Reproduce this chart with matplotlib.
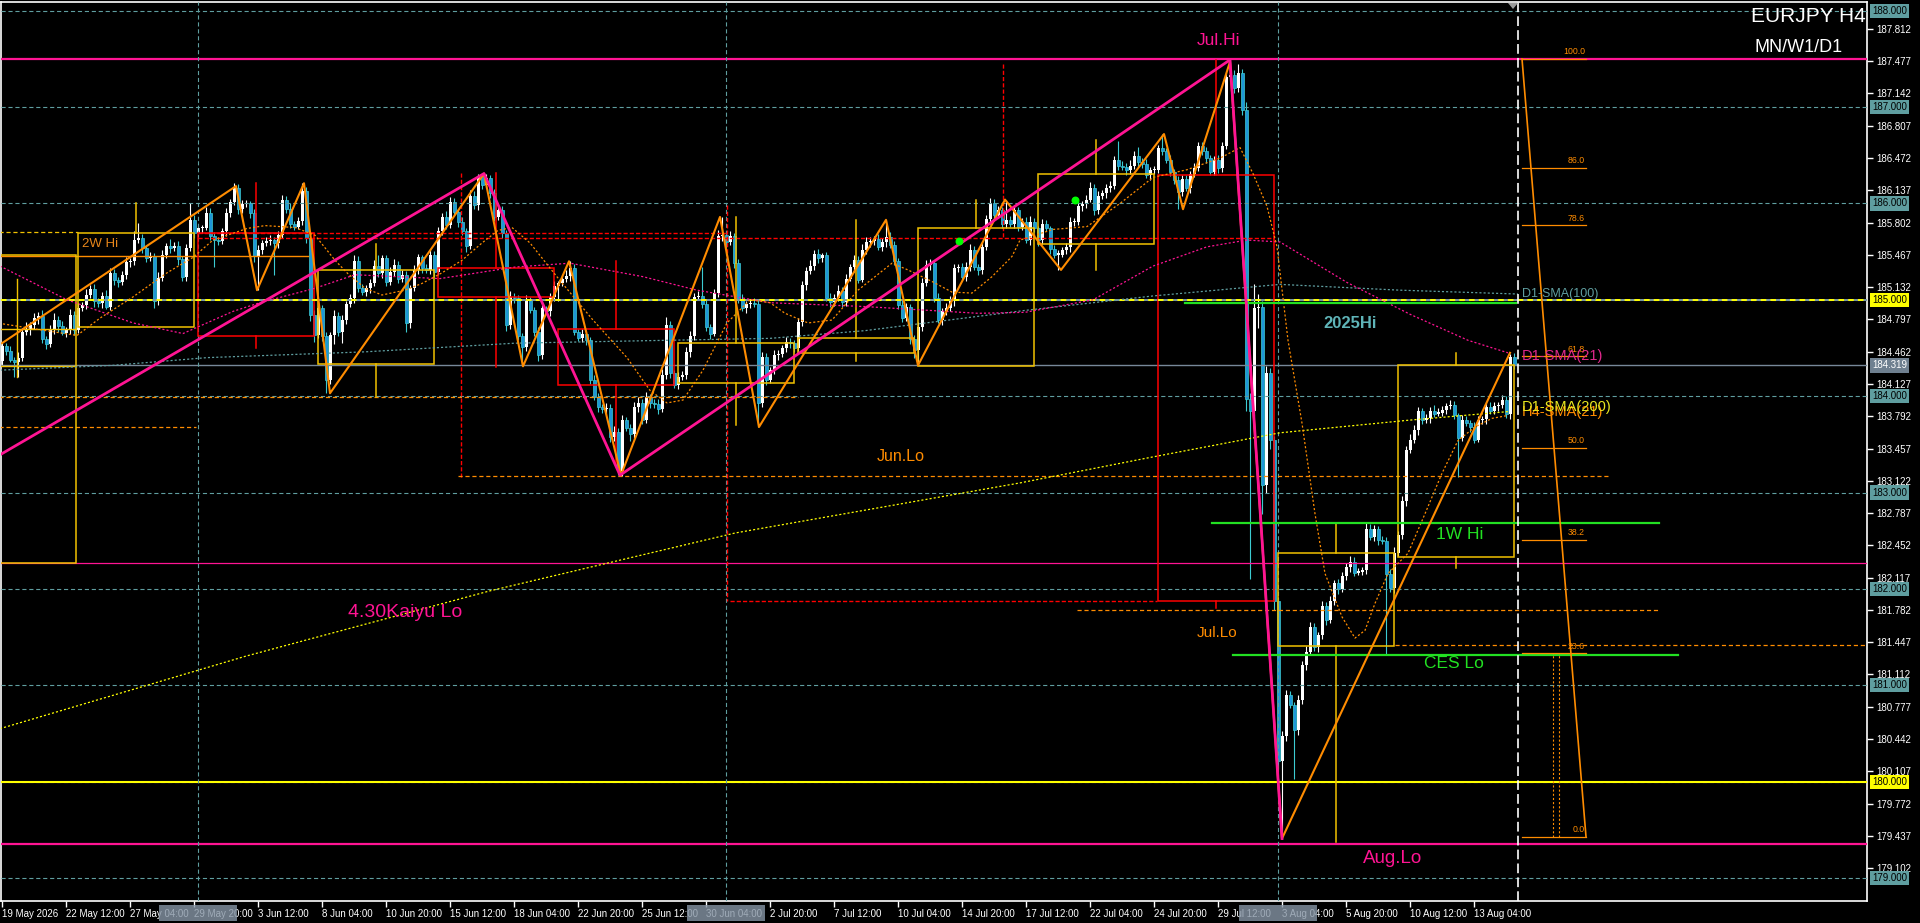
import numpy as np
import matplotlib
matplotlib.use("Agg")
import matplotlib.pyplot as plt
from matplotlib import font_manager
from matplotlib.patches import Rectangle, Polygon
from matplotlib.transforms import blended_transform_factory

plt.rcParams['lines.scale_dashes'] = False

_names = {f.name for f in font_manager.fontManager.ttflist}
SANS = 'Liberation Sans' if 'Liberation Sans' in _names else 'DejaVu Sans'
NARROW = 'Liberation Sans Narrow' if 'Liberation Sans Narrow' in _names else SANS
AXIS_SIZE = 8 if NARROW != SANS else 7

# ---------------- data (H4 bars, bar 0 = 19 May 2026 20:00) ----------------
FIRST_OPEN = 184.36
CLOSE = [
    184.52, 184.47, 184.38, 184.35, 184.40, 184.67, 184.69, 184.74, 184.81, 184.83,
    184.59, 184.54, 184.69, 184.79, 184.73, 184.66, 184.69, 184.84, 184.69, 184.92,
    184.95, 185.05, 185.11, 184.99, 184.97, 185.04, 184.93, 185.28, 185.21, 185.18,
    185.26, 185.39, 185.40, 185.62, 185.64, 185.54, 185.43, 185.45, 184.99, 185.23,
    185.47, 185.56, 185.54, 185.56, 185.42, 185.24, 185.54, 185.83, 185.69, 185.74,
    185.75, 185.90, 185.66, 185.62, 185.61, 185.71, 185.90, 186.01, 186.16, 185.94,
    185.99, 186.00, 185.90, 185.45, 185.52, 185.59, 185.61, 185.62, 185.59, 185.67,
    186.04, 185.94, 185.79, 185.76, 185.82, 186.13, 185.64, 184.84, 184.64, 184.91,
    184.62, 184.17, 184.64, 184.83, 184.67, 184.79, 184.96, 185.02, 185.40, 185.12,
    185.08, 185.12, 185.17, 185.35, 185.28, 185.43, 185.18, 185.29, 185.36, 185.22,
    185.26, 184.76, 185.12, 185.31, 185.44, 185.33, 185.31, 185.47, 185.29, 185.71,
    185.86, 185.78, 186.02, 185.91, 185.81, 185.71, 185.56, 186.08, 185.98, 186.28,
    186.19, 186.26, 186.11, 185.86, 185.93, 185.69, 184.74, 185.03, 185.02, 184.62,
    184.51, 185.00, 184.89, 184.67, 184.43, 184.91, 184.88, 185.03, 185.14, 185.17,
    185.22, 185.25, 185.33, 184.67, 184.60, 184.65, 184.58, 184.17, 183.99, 183.89,
    183.87, 183.88, 183.58, 183.63, 183.22, 183.75, 183.67, 183.61, 183.89, 183.93,
    183.75, 183.99, 183.93, 183.92, 183.87, 184.22, 184.74, 184.24, 184.12, 184.20,
    184.22, 184.46, 184.62, 185.03, 185.04, 184.96, 184.72, 184.65, 185.07, 185.66,
    185.67, 185.60, 185.66, 185.38, 185.01, 184.91, 184.96, 184.97, 184.96, 183.93,
    184.41, 184.17, 184.27, 184.43, 184.44, 184.50, 184.56, 184.55, 184.50, 184.77,
    185.15, 185.30, 185.35, 185.48, 185.43, 185.46, 185.02, 184.98, 185.02, 185.09,
    184.98, 185.22, 185.34, 185.41, 185.21, 185.52, 185.60, 185.61, 185.63, 185.55,
    185.60, 185.65, 185.57, 185.40, 184.95, 184.81, 184.93, 184.59, 184.48, 184.72,
    185.17, 185.36, 185.38, 185.02, 184.79, 184.88, 184.91, 184.99, 185.33, 185.34,
    185.24, 185.34, 185.52, 185.34, 185.31, 185.55, 185.84, 186.00, 185.88, 185.93,
    185.79, 185.83, 185.79, 185.93, 185.76, 185.81, 185.62, 185.81, 185.74, 185.62,
    185.79, 185.74, 185.53, 185.47, 185.47, 185.52, 185.55, 185.81, 185.81, 185.97,
    185.99, 186.04, 186.16, 185.93, 186.08, 186.11, 186.16, 186.18, 186.45, 186.39,
    186.38, 186.35, 186.39, 186.49, 186.43, 186.41, 186.29, 186.35, 186.35, 186.58,
    186.54, 186.45, 186.33, 186.24, 186.12, 186.25, 186.16, 186.31, 186.37, 186.60,
    186.54, 186.47, 186.33, 186.45, 186.37, 186.60, 187.31, 187.33, 187.20, 187.35,
    186.97, 183.97, 183.85, 184.91, 184.93, 183.08, 184.24, 183.55, 181.87, 180.21,
    180.47, 180.90, 180.80, 180.54, 180.85, 181.21, 181.35, 181.61, 181.40, 181.52,
    181.82, 181.68, 181.87, 182.06, 182.00, 182.13, 182.23, 182.28, 182.17, 182.18,
    182.20, 182.62, 182.54, 182.62, 182.51, 182.50, 182.16, 182.01, 182.37, 182.56,
    182.91, 183.44, 183.55, 183.65, 183.85, 183.75, 183.77, 183.85, 183.82, 183.83,
    183.86, 183.90, 183.91, 183.80, 183.57, 183.75, 183.72, 183.68, 183.55, 183.75,
    183.76, 183.89, 183.85, 183.90, 183.91, 183.96, 183.81, 184.41, 184.32,
]
# wick lengths above / below the body, in 0.01 yen
UP_WICK = [
    4, 3, 5, 3, 6, 4, 8, 3, 5, 4,  6, 3, 5, 7, 4, 5, 3, 6, 4, 5,
    3, 6, 4, 5, 3, 4, 6, 5, 4, 3,  4, 5, 3, 9, 16, 4, 3, 5, 4, 6,
    5, 3, 7, 4, 5, 3, 4, 17, 5, 4,  3, 6, 5, 4, 3, 4, 5, 4, 5, 4,
    5, 4, 3, 4, 5, 3, 4, 5, 3, 4,  5, 4, 6, 3, 4, 8, 4, 3, 5, 6,
    4, 5, 3, 6, 4, 5, 3, 4, 6, 5,  4, 3, 5, 6, 12, 4, 3, 5, 6, 4,
    5, 4, 3, 5, 4, 3, 4, 6, 4, 5,  4, 6, 5, 4, 3, 5, 4, 6, 5, 3,
    4, 5, 3, 4, 5, 4, 3, 6, 4, 3,  4, 5, 3, 4, 5, 4, 3, 4, 5, 3,
    4, 6, 7, 4, 3, 5, 4, 3, 5, 4,  3, 5, 4, 6, 4, 5, 3, 4, 5, 6,
    4, 5, 3, 4, 5, 6, 8, 4, 3, 5,  4, 5, 6, 4, 5, 30, 4, 3, 4, 6,
    19, 4, 5, 3, 4, 5, 3, 4, 5, 4,  5, 4, 3, 5, 4, 3, 5, 4, 3, 4,
    5, 4, 6, 4, 5, 3, 4, 5, 4, 6,  4, 5, 3, 5, 4, 6, 5, 4, 3, 5,
    4, 18, 5, 4, 3, 5, 4, 3, 4, 5,  6, 5, 4, 3, 5, 4, 6, 5, 4, 3,
    4, 5, 6, 4, 3, 5, 4, 6, 5, 4,  3, 21, 4, 5, 3, 4, 5, 6, 4, 3,
    5, 4, 3, 4, 5, 3, 4, 5, 4, 6,  4, 5, 6, 4, 5, 3, 4, 5, 4, 20,
    5, 4, 6, 5, 10, 4, 5, 3, 4, 3,  14, 4, 5, 3, 4, 5, 4, 3, 5, 4,
    4, 5, 3, 4, 5, 4, 4, 16, 5, 10,  4, 8, 6, 25, 13, 6, 7, 5, 4, 5,
    6, 5, 4, 3, 5, 4, 6, 5, 4, 3,  5, 4, 6, 3, 4, 5, 4, 6, 5, 4,
    3, 6, 5, 4, 3, 4, 4, 5, 6, 4,  5, 4, 6, 5, 4, 3, 5, 4, 6, 5,
    4, 3, 5, 4, 3, 5, 4, 3, 5, 4,  3, 4, 5, 4, 3, 5, 4, 3, 4,
]
DN_WICK = [
    5, 4, 3, 15, 15, 4, 3, 5, 4, 6,  4, 5, 3, 4, 6, 3, 5, 4, 5, 3,
    4, 5, 3, 6, 4, 5, 3, 4, 6, 5,  3, 4, 5, 4, 3, 5, 4, 3, 8, 4,
    3, 4, 5, 3, 6, 5, 4, 3, 5, 4,  5, 3, 4, 28, 4, 3, 5, 4, 3, 5,
    4, 3, 5, 6, 35, 4, 3, 4, 33, 5,  3, 4, 5, 4, 3, 4, 5, 6, 8, 4,
    5, 14, 4, 10, 5, 12, 4, 3, 5, 4,  3, 4, 5, 3, 4, 5, 4, 3, 4, 5,
    4, 9, 5, 3, 4, 5, 3, 4, 5, 3,  4, 5, 3, 4, 5, 4, 6, 3, 4, 5,
    4, 3, 5, 4, 3, 5, 6, 4, 5, 4,  20, 4, 3, 5, 6, 4, 3, 5, 4, 15,
    3, 4, 5, 4, 3, 4, 5, 4, 3, 5,  4, 5, 6, 4, 4, 5, 3, 8, 4, 5,
    4, 3, 5, 4, 6, 3, 4, 5, 4, 5,  3, 4, 5, 4, 3, 5, 4, 6, 3, 4,
    5, 4, 3, 5, 4, 3, 5, 4, 3, 25,  4, 5, 3, 4, 5, 3, 4, 5, 4, 3,
    4, 5, 3, 4, 5, 4, 3, 5, 4, 3,  5, 4, 3, 5, 4, 3, 4, 5, 4, 3,
    4, 5, 3, 4, 5, 4, 3, 5, 8, 16,  4, 3, 5, 4, 3, 5, 4, 3, 5, 4,
    3, 5, 4, 3, 5, 4, 3, 5, 4, 3,  4, 5, 3, 4, 5, 4, 3, 5, 4, 6,
    4, 3, 5, 4, 16, 3, 4, 5, 4, 3,  5, 4, 3, 5, 4, 3, 5, 4, 3, 4,
    3, 5, 4, 3, 5, 4, 3, 5, 4, 3,  4, 3, 5, 4, 18, 4, 3, 5, 4, 3,
    4, 5, 3, 4, 5, 4, 3, 4, 5, 4,  5, 12, 175, 6, 20, 30, 8, 10, 9, 11,
    80, 5, 4, 51, 6, 4, 5, 3, 4, 5,  4, 5, 3, 4, 5, 3, 4, 5, 4, 3,
    4, 5, 3, 4, 5, 3, 85, 4, 5, 3,  4, 5, 3, 4, 5, 4, 3, 5, 4, 3,
    4, 5, 3, 4, 41, 4, 3, 5, 4, 3,  4, 5, 3, 4, 5, 3, 4, 5, 4,
]

TIME_LABEL_BARS = list(range(0, 369, 16))
TIME_LABELS = ["19 May 2026", "22 May 12:00", "27 May 04:00", "29 May 20:00", "3 Jun 12:00",
               "8 Jun 04:00", "10 Jun 20:00", "15 Jun 12:00", "18 Jun 04:00", "22 Jun 20:00",
               "25 Jun 12:00", "30 Jun 04:00", "2 Jul 20:00", "7 Jul 12:00", "10 Jul 04:00",
               "14 Jul 20:00", "17 Jul 12:00", "22 Jul 04:00", "24 Jul 20:00", "29 Jul 12:00",
               "3 Aug 04:00", "5 Aug 20:00", "10 Aug 12:00", "13 Aug 04:00"]
MONTH_START_BARS = [49, 181, 319]

PRICE_TICKS = [187.812, 187.477, 187.142, 186.807, 186.472, 186.137, 185.802, 185.467,
               185.132, 184.797, 184.462, 184.127, 183.792, 183.457, 183.122, 182.787,
               182.452, 182.117, 181.782, 181.447, 181.112, 180.777, 180.442, 180.107,
               179.772, 179.437, 179.102]
ROUND_LEVELS = [188, 187, 186, 184, 183, 182, 181, 179]
YELLOW_LEVELS = [185, 180]
BID = 184.319

# key horizontal levels
JUL_HI, KAIYU_LO, AUG_LO = 187.50, 182.27, 179.35
GREEN_LINES = [  # (bar from, bar to, price)
    (295.75, 378.5, 184.97),
    (302.5, 414.25, 182.68),
    (307.75, 419.0, 181.31),
]

# weekly candle boxes: start bar, end bar, body low, body high, high, low, bearish
WEEK_START = [19, 49, 79, 109, 139, 169, 199, 229, 259, 289, 319, 349]
WEEK_END = [48, 78, 108, 138, 168, 198, 228, 258, 288, 318, 348, 378]
WEEK_BODY_LO = [184.72, 184.62, 184.33, 185.03, 184.12, 184.14, 184.45, 184.31, 185.58, 181.87, 181.41, 182.33]
WEEK_BODY_HI = [185.69, 185.69, 185.31, 185.33, 184.70, 184.55, 184.60, 185.74, 186.31, 186.29, 182.37, 184.32]
WEEK_HIGH = [186.00, 186.21, 185.58, 186.32, 185.40, 185.86, 185.83, 186.04, 186.66, 187.49, 182.68, 184.45]
WEEK_LOW = [184.72, 184.50, 183.99, 184.30, 183.26, 183.70, 184.36, 184.31, 185.31, 181.80, 179.37, 182.22]
WEEK_BEAR = [False, True, False, True, True, False, False, False, False, True, False, False]

RED_DASH_SEGS = [  # (x0, y0, x1, y1)
    (49, 185.69, 181, 185.69),
    (49, 185.64, 318, 185.64),
    (182, 181.87, 288.75, 181.87),
    (114.75, 186.32, 114.75, 183.15),
    (181.25, 185.98, 181.25, 181.87),
    (250.25, 187.45, 250.25, 185.64),
]
ORANGE_DASH_SEGS = [
    (-1, 183.99, 199, 183.99),
    (-1, 183.68, 48.5, 183.68),
    (114, 183.17, 402, 183.17),
    (268.75, 181.78, 414, 181.78),
    (348.25, 181.42, 470, 181.42),
]

# moving averages (bar, price)
SMA21_D1_X = [-0.5, 16.25, 32.75, 45.25, 57.75, 64.5, 78.25, 88.25, 109.5, 128.25, 142, 160.25, 173.75,
              192, 215.75, 244, 255.75, 272.75, 287.75, 301.25, 311.25, 319.5, 336.25, 352, 366.5, 376.5]
SMA21_D1_Y = [185.35, 185.00, 184.76, 184.65, 184.88, 184.97, 185.12, 185.26, 185.22, 185.34, 185.38, 185.24,
              185.10, 184.97, 184.93, 184.86, 184.87, 185.00, 185.35, 185.55, 185.62, 185.60, 185.18, 184.85,
              184.58, 184.45]
SMA100_D1_X = [-0.5, 27.75, 51.25, 90.75, 128.25, 192, 215.75, 255.75, 287.75, 319.5, 349.5, 379]
SMA100_D1_Y = [184.27, 184.32, 184.40, 184.46, 184.55, 184.60, 184.68, 184.89, 185.04, 185.16, 185.10, 185.06]
SMA200_D1_X = [-0.5, 60.75, 122, 183.25, 254.5, 287.75, 319.5, 351.5, 376.5]
SMA200_D1_Y = [180.55, 181.30, 181.98, 182.58, 183.10, 183.37, 183.62, 183.75, 183.84]
SMA21_H4_X = [0.25, 18.75, 24.5, 32.75, 41.25, 47.75, 52.75, 61.25, 65.75, 73.25, 78.25, 83.25, 86.5,
              90.75, 95, 100.75, 105, 110, 115, 120, 124, 127.5, 132, 139.5, 147.75, 156.25, 162, 166.25,
              170.25, 175.25, 181.25, 187, 192, 195.75, 201.5, 207.5, 214, 222.5, 226.5, 232.5, 237.5,
              242.5, 247.5, 252.5, 254.5, 262.75, 271.25, 279.5, 287.75, 296.25, 304.5, 309.5, 312.75,
              316.25, 318.75, 321.5, 325, 328.25, 330.75, 335, 338.25, 340.75, 343.25, 346.5, 351.5,
              355.75, 360, 364, 368.25, 372.5, 376.5]
SMA21_H4_Y = [184.75, 184.63, 184.81, 185.03, 185.28, 185.44, 185.62, 185.74, 185.77, 185.75, 185.67,
              185.41, 185.27, 185.12, 185.05, 185.10, 185.17, 185.28, 185.41, 185.59, 185.72, 185.75,
              185.59, 185.20, 184.79, 184.40, 184.06, 183.93, 183.96, 184.27, 184.76, 185.00, 184.97,
              184.86, 184.76, 184.79, 185.10, 185.38, 185.31, 185.19, 185.08, 185.07, 185.24, 185.45,
              185.62, 185.73, 185.76, 186.00, 186.27, 186.35, 186.47, 186.58, 186.31, 185.97, 185.55,
              184.58, 183.72, 182.78, 182.16, 181.71, 181.49, 181.57, 181.85, 182.16, 182.37, 182.78,
              183.20, 183.54, 183.68, 183.77, 183.80]

# zigzags
PINK_ZZ_X = [-1, 120.5, 154.5, 307, 320]
PINK_ZZ_Y = [183.38, 186.31, 183.18, 187.49, 179.41]
ORANGE_ZZ_X = [0, 58.5, 63.75, 75.5, 82, 120.5, 130.25, 141.75, 154.75, 179.5, 189.25, 221, 229,
               250.75, 264.75, 290.5, 295.25, 307, 320, 377]
ORANGE_ZZ_Y = [184.55, 186.18, 185.10, 186.21, 184.03, 186.31, 184.31, 185.40, 183.18, 185.86, 183.68,
               185.83, 184.32, 186.04, 185.31, 186.72, 185.94, 187.47, 179.41, 184.45]

GREEN_DOT_X = [239.25, 268.25]
GREEN_DOT_Y = [185.61, 186.04]

FIB_LEVELS = [100.0, 86.0, 78.6, 61.8, 50.0, 38.2, 23.6, 0.0]
FIB_LOW, FIB_HIGH = 179.43, 187.50

# ---------------- colours ----------------
PINK = '#FF1493'
ORANGE = '#FF8C00'
GOLD = '#F2C200'
YELLOW = '#FFFF00'
TEAL = '#5F9EA0'
RED = '#FF0000'
GREEN = '#22E022'
BEAR_BODY = '#1E96D8'
BEAR_WICK = '#3CCBD2'

# ---------------- layout (pixels of the MT chart) ----------------
W, H = 1920, 923
FL, FT, FR, FB = 1, 2, 1867, 901


def bar_of(px):
    return (px - 2.0) / 4.0


def price_of(py):
    return 188.0 - (py - 10.7) / 96.37


fig = plt.figure(figsize=(W / 100, H / 100), dpi=100, facecolor='black')
ax = fig.add_axes([FL / W, 1 - FB / H, (FR - FL) / W, (FB - FT) / H])
ax.set_facecolor('black')
ax.set_xlim(bar_of(FL), bar_of(FR))
ax.set_ylim(price_of(FB), price_of(FT))
for sp in ax.spines.values():
    sp.set_color('white')
    sp.set_linewidth(1.2)

DASH = (0, (3, 2))
DOT = (0, (1.5, 1.5))

# horizontal reference lines
for lv in ROUND_LEVELS + YELLOW_LEVELS:
    ax.axhline(lv, color=TEAL, lw=0.8, ls=DASH, zorder=3)
ax.axhline(185, color='#7A98A6', lw=1.4, zorder=3)
ax.axhline(185, color=YELLOW, lw=1.4, ls=(0, (4, 3)), zorder=3.1)
ax.axhline(180, color=YELLOW, lw=1.5, zorder=3)
ax.axhline(BID, color='#778899', lw=1.0, zorder=3)
ax.axhline(JUL_HI, color=PINK, lw=1.6, zorder=3)
ax.axhline(KAIYU_LO, color=PINK, lw=0.9, zorder=3)
ax.axhline(AUG_LO, color=PINK, lw=1.6, zorder=3)

for b in MONTH_START_BARS:
    ax.axvline(b, color=TEAL, lw=0.8, ls=DASH, zorder=3)

for x0, y0, x1, y1 in RED_DASH_SEGS:
    ax.plot([x0, x1], [y0, y1], color=RED, lw=1.0, ls=(0, (3, 1.5)), zorder=3)
for x0, y0, x1, y1 in ORANGE_DASH_SEGS:
    ax.plot([x0, x1], [y0, y1], color=ORANGE, lw=0.9, ls=(0, (3, 2)), zorder=3)
ax.plot([-1, 19], [185.70, 185.70], color=GOLD, lw=0.9, ls=(0, (3, 2)), zorder=3)
ax.plot([-1, 76.5], [185.45, 185.45], color=ORANGE, lw=1.0, zorder=3)

# first partial week (left edge)
ax.add_patch(Rectangle((-1, KAIYU_LO), 19.5, 185.46 - KAIYU_LO, fill=False, ec=GOLD, lw=1.1, zorder=3))
ax.plot([-1, 18.5], [184.70, 184.70], color=GOLD, lw=1.0, zorder=3)
ax.plot([-1, 18.5], [184.31, 184.31], color=GOLD, lw=1.0, zorder=3)
ax.plot([3.75, 3.75], [184.20, 185.22], color=GOLD, lw=1.0, zorder=3)

# weekly candle boxes
for ws, we, blo, bhi, hi, lo, bear in zip(WEEK_START, WEEK_END, WEEK_BODY_LO, WEEK_BODY_HI,
                                          WEEK_HIGH, WEEK_LOW, WEEK_BEAR):
    col = RED if bear else GOLD
    ax.add_patch(Rectangle((ws, blo), we - ws, bhi - blo, fill=False, ec=col, lw=1.1, zorder=3))
    mid = (ws + we) / 2
    if hi > bhi:
        ax.plot([mid, mid], [bhi, hi], color=col, lw=1.1, zorder=3)
    if lo < blo:
        ax.plot([mid, mid], [lo, blo], color=col, lw=1.1, zorder=3)

# moving averages
ax.plot(SMA200_D1_X, SMA200_D1_Y, color=YELLOW, lw=0.9, ls=DOT, zorder=3.5)
ax.plot(SMA100_D1_X, SMA100_D1_Y, color=TEAL, lw=0.9, ls=DOT, zorder=3.5)
ax.plot(SMA21_D1_X, SMA21_D1_Y, color=PINK, lw=0.9, ls=DOT, zorder=3.5)
ax.plot(SMA21_H4_X, SMA21_H4_Y, color=ORANGE, lw=0.9, ls=DOT, zorder=3.5)

# candles
c = np.array(CLOSE)
o = np.concatenate([[FIRST_OPEN], c[:-1]])
hi = np.maximum(o, c) + np.array(UP_WICK) / 100
lo = np.minimum(o, c) - np.array(DN_WICK) / 100
x = np.arange(len(c))
up = c >= o
body = np.maximum(np.abs(c - o), 0.012)
base = np.minimum(o, c)
ax.vlines(x[up], lo[up], hi[up], color='white', lw=0.8, zorder=2)
ax.vlines(x[~up], lo[~up], hi[~up], color=BEAR_WICK, lw=0.8, zorder=2)
ax.bar(x[up], body[up], bottom=base[up], width=0.75, color='white', lw=0, zorder=2.2)
ax.bar(x[~up], body[~up], bottom=base[~up], width=0.75, color=BEAR_BODY, edgecolor=BEAR_WICK,
       lw=0.5, zorder=2.2)

# zigzags
ax.plot(ORANGE_ZZ_X, ORANGE_ZZ_Y, color=ORANGE, lw=1.5, zorder=5)
ax.plot(PINK_ZZ_X, PINK_ZZ_Y, color=PINK, lw=2.0, zorder=5.1)
ax.scatter(GREEN_DOT_X, GREEN_DOT_Y, s=22, color='#00FF00', zorder=6)

# green level lines
for x0, x1, p in GREEN_LINES:
    ax.plot([x0, x1], [p, p], color=GREEN, lw=1.6, zorder=4)

# fibonacci on the right
fx0, fx1 = 380, 396
for lv in FIB_LEVELS:
    p = FIB_LOW + (FIB_HIGH - FIB_LOW) * lv / 100
    ax.plot([fx0, fx1], [p, p], color=ORANGE, lw=0.9, zorder=4)
    ax.text(fx1 - 0.3, p + 0.025, f"{lv:.1f}", ha='right', va='bottom', fontsize=6.3,
            color=ORANGE, family=SANS, zorder=6)
ax.plot([fx0, fx1], [FIB_HIGH, FIB_LOW], color=ORANGE, lw=1.2, zorder=4)
p236 = FIB_LOW + (FIB_HIGH - FIB_LOW) * 0.236
for vx in (387.75, 389.25):
    ax.plot([vx, vx], [FIB_LOW, p236], color=ORANGE, lw=0.8, ls=DOT, zorder=4)

# chart shift line
ax.axvline(379, color='white', lw=1.2, ls=(0, (7, 3)), zorder=4)


# labels on the chart
def label(bx, p, s, col, size, ha='center', weight='normal'):
    ax.text(bx, p, s, color=col, fontsize=size, ha=ha, va='center', family=SANS,
            fontweight=weight, zorder=6)


label(304.25, 187.69, "Jul.Hi", PINK, 12.5)
label(337.0, 184.75, "2025Hi", '#5FB4B8', 12, weight='bold')
label(224.75, 183.37, "Jun.Lo", ORANGE, 11.5)
label(100.75, 181.76, "4.30Kaiyu Lo", PINK, 14)
label(303.75, 181.54, "Jul.Lo", ORANGE, 11)
label(364.5, 182.56, "1W Hi", GREEN, 12.5)
label(363.0, 181.23, "CES Lo", GREEN, 12.5)
label(347.75, 179.20, "Aug.Lo", PINK, 13.5)
label(20.0, 185.58, "2W Hi", '#E8861A', 9.5, ha='left')
label(380.0, 185.06, "D1-SMA(100)", TEAL, 9, ha='left')
label(380.0, 184.42, "D1-SMA(21)", '#E0288C', 10.5, ha='left')
label(380.0, 183.84, "H4-SMA(21)", ORANGE, 10.5, ha='left')
label(380.0, 183.89, "D1-SMA(200)", '#E8E820', 10.5, ha='left')

# right price axis
ax.yaxis.tick_right()
ax.set_yticks(PRICE_TICKS)
ax.set_yticklabels([f"{t:.3f}" for t in PRICE_TICKS])
ax.tick_params(axis='y', colors='white', length=4, width=1, pad=2.5, labelsize=AXIS_SIZE,
               labelfontfamily=NARROW)
trans = blended_transform_factory(ax.transAxes, ax.transData)
xb = 1 + 5 / (FR - FL)
box_kw = dict(transform=trans, ha='left', va='center', fontsize=AXIS_SIZE, family=NARROW,
              clip_on=False)
for lv in ROUND_LEVELS:
    ax.text(xb, lv, f"{lv:.3f}", color='black',
            bbox=dict(boxstyle='square,pad=0.22', fc=TEAL, ec='none'), **box_kw)
for lv in YELLOW_LEVELS:
    ax.text(xb, lv, f"{lv:.3f}", color='black',
            bbox=dict(boxstyle='square,pad=0.22', fc=YELLOW, ec='none'), **box_kw)
ax.text(xb, BID, f"{BID:.3f}", color='white',
        bbox=dict(boxstyle='square,pad=0.22', fc='#6F8090', ec='none'), **box_kw)

# bottom time axis
ax.set_xticks(TIME_LABEL_BARS)
ax.set_xticklabels(TIME_LABELS, ha='left')
ax.tick_params(axis='x', colors='white', length=4, width=1, pad=2, labelsize=AXIS_SIZE,
               labelfontfamily=NARROW)
for b in MONTH_START_BARS:
    cx = 2 + 4 * b
    fig.add_artist(Rectangle(((cx - 39) / W, (H - 921) / H), 78 / W, 16 / H,
                             transform=fig.transFigure, fc='#8796A6', ec='none', alpha=0.8))

# chart shift marker
fig.add_artist(Polygon([[1508 / W, 1 - 3 / H], [1518 / W, 1 - 3 / H], [1513 / W, 1 - 9 / H]],
                       closed=True, transform=fig.transFigure, fc='#9A9A9A', ec='none'))

fig.text(1866 / W, 1 - 17 / H, "EURJPY H4", ha='right', va='center', color='white',
         fontsize=15, family=SANS)
fig.text(1755 / W, 1 - 47 / H, "MN/W1/D1", ha='left', va='center', color='white',
         fontsize=13, family=SANS)

fig.savefig("out.png", dpi=100, facecolor='black')
